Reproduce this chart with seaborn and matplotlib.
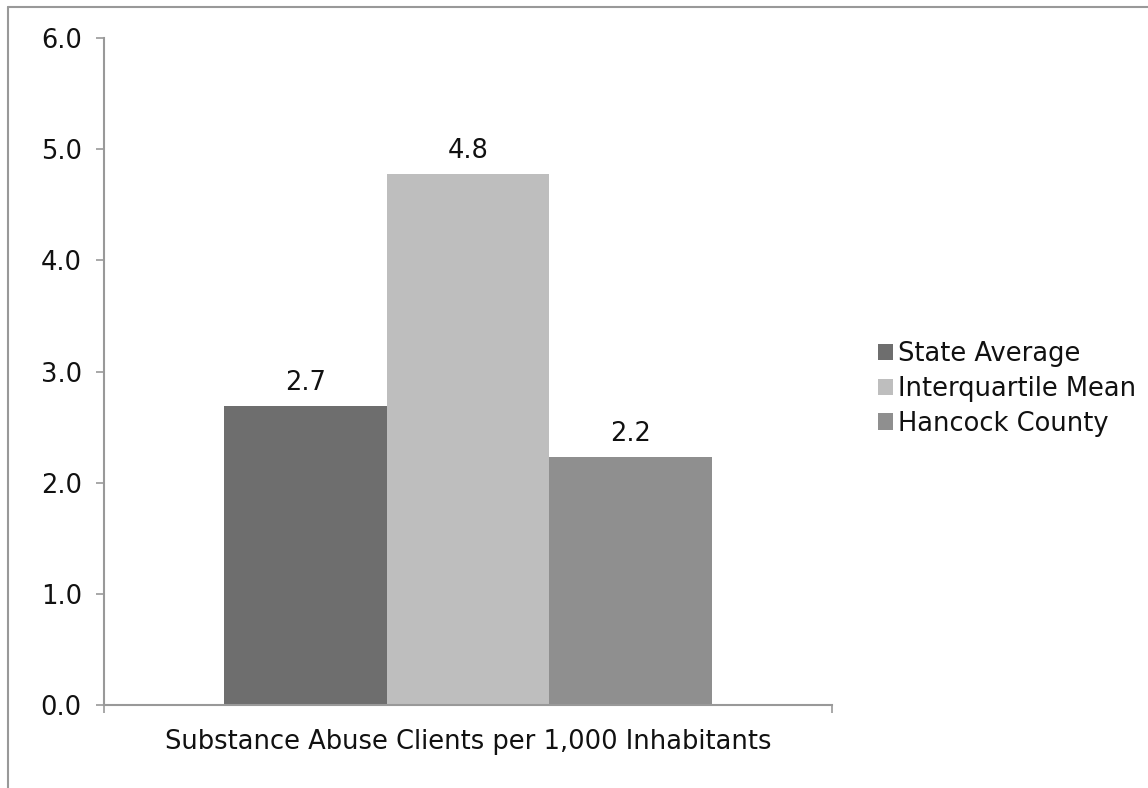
import matplotlib
matplotlib.use("Agg")
import matplotlib.pyplot as plt
import seaborn as sns
import pandas as pd
from matplotlib.lines import Line2D

categories = ["Substance Abuse Clients per 1,000 Inhabitants"]
series = ["State Average", "Interquartile Mean", "Hancock County"]
values = [2.69, 4.78, 2.23]
colors = ["#6e6e6e", "#bebebe", "#8f8f8f"]
y_ticks = [0, 1, 2, 3, 4, 5, 6]

sns.set_theme(style="white")
plt.rcParams["font.family"] = ["DejaVu Sans"]

FS = 18.5

df = pd.DataFrame({"metric": categories * len(series), "series": series, "value": values})

fig = plt.figure(figsize=(11.48, 7.88), dpi=100)
ax = fig.add_axes([104 / 1148, 1 - 705 / 788, (832 - 104) / 1148, (705 - 38) / 788])

sns.barplot(data=df, x="metric", y="value", hue="series", hue_order=series,
            palette=colors, saturation=1, width=0.67, ax=ax, linewidth=0)

for c in ax.containers:
    ax.bar_label(c, fmt="%.1f", padding=7, fontsize=FS, color="#111111")

ax.set_ylim(0, 6)
ax.set_xlim(-0.5, 0.5)
ax.set_yticks(y_ticks)
ax.set_yticklabels([f"{v:.1f}" for v in y_ticks], fontsize=FS, color="#111111")
ax.set_xlabel("")
ax.set_ylabel("")
ax.tick_params(axis="x", which="major", length=0, pad=17, labelsize=FS, labelcolor="#111111")
ax.set_xticks([-0.5, 0.5], minor=True)
ax.tick_params(axis="x", which="minor", length=6, width=1.2, color="#999999", direction="out", bottom=True)
ax.tick_params(axis="y", length=6, width=1.2, color="#999999", direction="out", left=True, pad=10)

for side in ["top", "right"]:
    ax.spines[side].set_visible(False)
for side in ["left", "bottom"]:
    ax.spines[side].set_color("#999999")
    ax.spines[side].set_linewidth(1.5)

leg = ax.legend(loc="center left", bbox_to_anchor=(1.031, 0.474), frameon=False,
                fontsize=FS, handlelength=0.6, handleheight=0.6, handletextpad=0.2,
                labelspacing=0.34, borderpad=0.4)
for t in leg.get_texts():
    t.set_color("#111111")

# outer chart frame (top and left edges visible)
fig.add_artist(Line2D([8 / 1148, 8 / 1148], [0, 1 - 7 / 788], transform=fig.transFigure,
                      color="#999999", linewidth=1.5))
fig.add_artist(Line2D([8 / 1148, 1], [1 - 7 / 788, 1 - 7 / 788], transform=fig.transFigure,
                      color="#999999", linewidth=1.5))

fig.savefig("out.png", dpi=100, facecolor="white")
